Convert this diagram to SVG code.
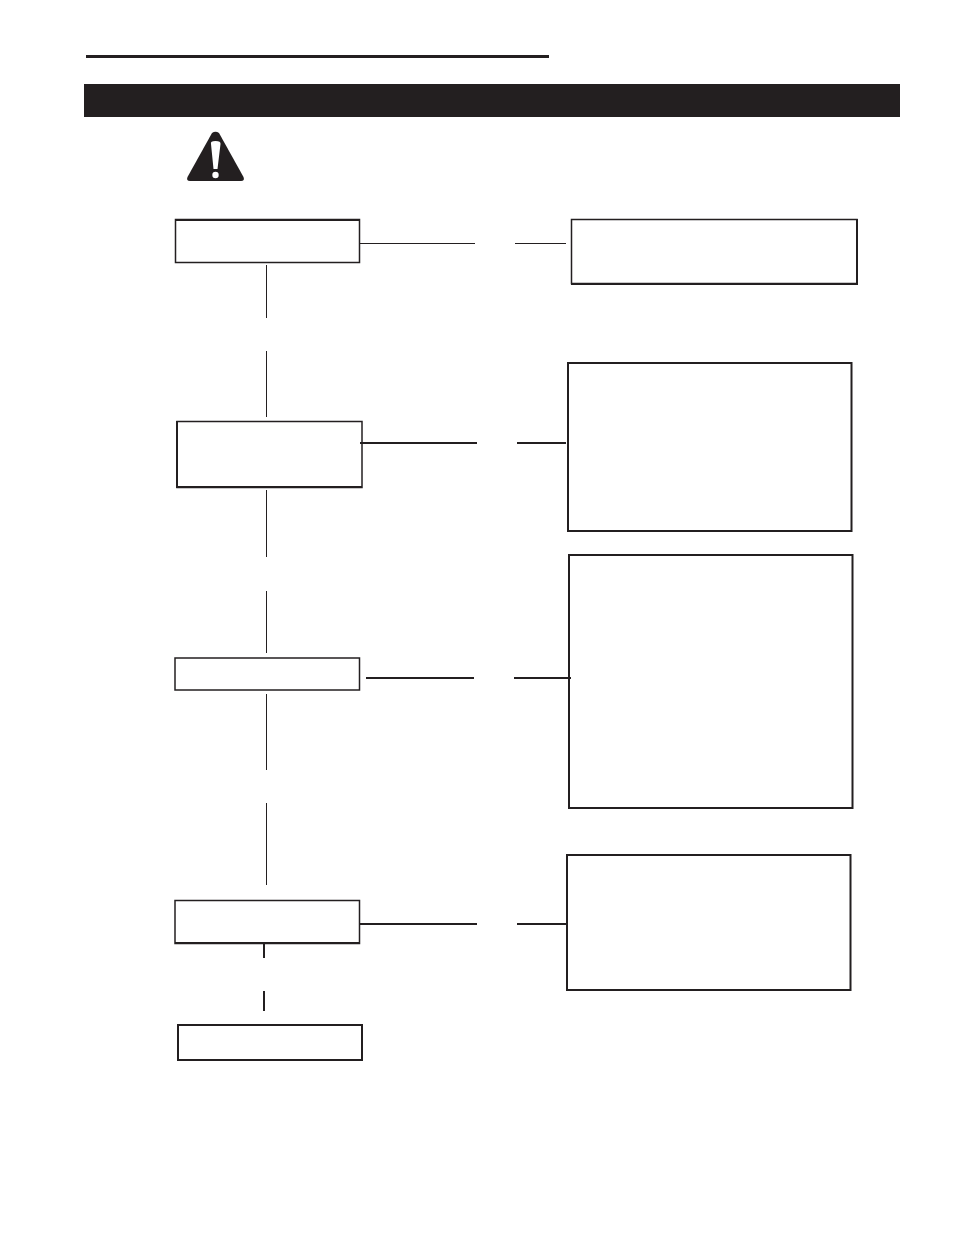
<svg xmlns="http://www.w3.org/2000/svg" width="954" height="1235" viewBox="0 0 954 1235">
<style>
.box{fill:#fff;stroke:#231f20;stroke-width:1.5}
.thick{fill:#fff;stroke:#231f20;stroke-width:2}
.edge{fill:none;stroke:#231f20;stroke-width:2}
.thin{stroke:#231f20;stroke-width:1;fill:none}
.med{stroke:#231f20;stroke-width:2;fill:none}
</style>
<rect width="954" height="1235" fill="#fff"/>
<rect x="86" y="55" width="463" height="3" fill="#231f20"/>
<rect x="84" y="84" width="816" height="33" fill="#231f20"/>
<g id="warning">
<path d="M212 133Q215.500 130.500 219 133L243.500 177Q245 181 241 181H190Q186 181 187.500 177Z" fill="#231f20"/>
<path d="M211 144Q210 141 215.500 141Q221 141 220.500 144L217.500 169H213.500Z" fill="#fff"/>
<circle cx="215.500" cy="175" r="3.200" fill="#fff"/>
</g>
<g id="node-1"><rect class="box" x="175.500" y="219.500" width="184" height="43"/><path class="edge" d="M175 220H360"/></g>
<g id="node-2"><rect class="box" x="571.500" y="219.500" width="285.500" height="64"/><path class="edge" d="M857 219V284H571"/></g>
<g id="node-3"><rect class="box" x="177" y="421.500" width="185" height="66"/><path class="edge" d="M177 421V487H362"/></g>
<g id="node-4"><rect class="thick" x="568" y="363" width="283.500" height="168"/></g>
<g id="node-5"><rect class="box" x="175" y="658" width="184.500" height="32"/></g>
<g id="node-6"><rect class="thick" x="569" y="555" width="283.500" height="253"/></g>
<g id="node-7"><rect class="box" x="175" y="900.500" width="184.500" height="43"/><path class="edge" d="M175 943H360"/></g>
<g id="node-8"><rect class="thick" x="567" y="855" width="283.500" height="135"/></g>
<g id="node-9"><rect class="thick" x="178" y="1025" width="184" height="35"/></g>
<g id="connectors">
<path class="thin" d="M360 243.500H475M515 243.500H566"/>
<path class="thin" d="M266.500 265V318M266.500 351V417M266.500 490V557M266.500 591V653M266.500 694V770M266.500 803V885"/>
<path class="med" d="M360 443H477M517 443H566M366 678H474M514 678H571M360 924H477M517 924H567M264 943V958M264 991V1011"/>
</g>
</svg>
